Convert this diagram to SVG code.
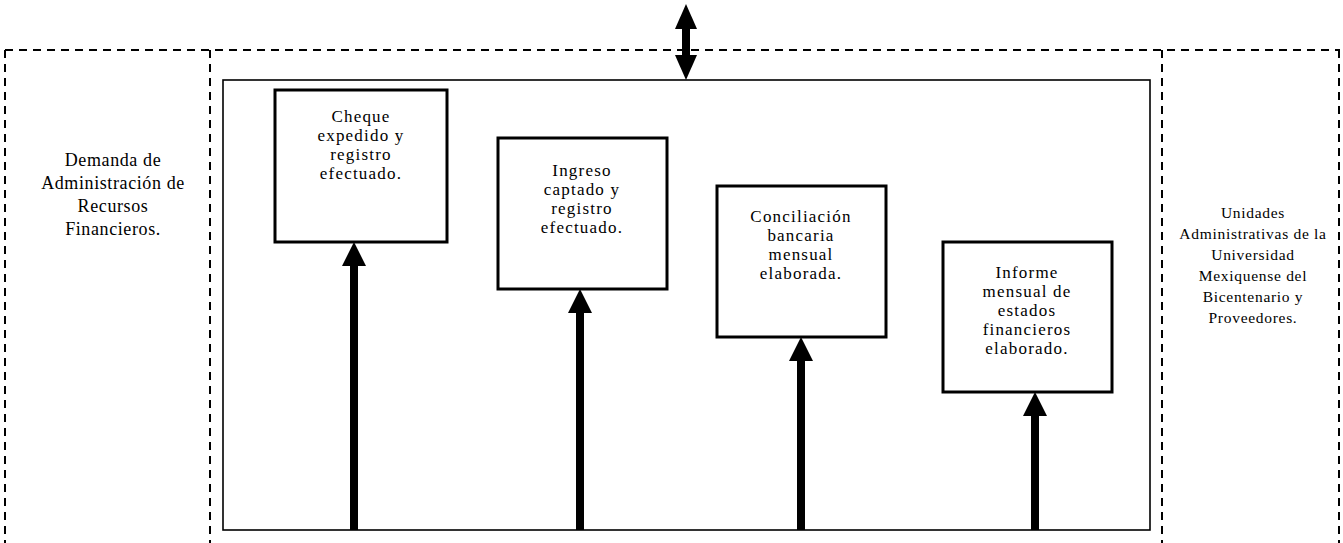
<svg xmlns="http://www.w3.org/2000/svg" width="1343" height="543" viewBox="0 0 1343 543">
<defs>
<style>
.dash{fill:none;stroke:#000;stroke-width:2;stroke-dasharray:8 6}
.frame{fill:none;stroke:#000;stroke-width:1.6}
.box{fill:#fff;stroke:#000;stroke-width:3}
.shaft{stroke:#000;stroke-width:8;fill:none}
.head{fill:#000}
text{font-family:"Liberation Serif","Times New Roman",serif;fill:#000;text-anchor:middle}
.t{font-size:17px;letter-spacing:1.2px}
.side{font-size:18px;letter-spacing:0.6px}
.side2{font-size:15.5px;letter-spacing:0.7px}
</style>
</defs>
<rect width="1343" height="543" fill="#fff"/>
<g id="frames">
<path class="dash" d="M5 50 H1340"/>
<path class="dash" d="M5 50 V543"/>
<path class="dash" d="M210 50 V543"/>
<path class="dash" d="M1162 50 V543"/>
<path class="dash" d="M1339 50 V543"/>
<rect class="frame" x="223" y="80" width="927" height="450"/>
</g>
<g id="connectors">
<path class="shaft" d="M686 24 V60"/>
<polygon class="head" points="686,4 675,29 697,29"/>
<polygon class="head" points="686,80 675,55 697,55"/>
<path class="shaft" d="M354 530 V262"/>
<polygon class="head" points="354,242 342,266 366,266"/>
<path class="shaft" d="M580 530 V309"/>
<polygon class="head" points="580,289 568,313 592,313"/>
<path class="shaft" d="M801 530 V357"/>
<polygon class="head" points="801,337 789,361 813,361"/>
<path class="shaft" d="M1035 530 V412"/>
<polygon class="head" points="1035,392 1023,416 1047,416"/>
</g>
<g id="demanda">
<text class="side" x="113" y="166">Demanda de</text>
<text class="side" x="113" y="189">Administración de</text>
<text class="side" x="113" y="212">Recursos</text>
<text class="side" x="113" y="235">Financieros.</text>
</g>
<g id="unidades">
<text class="side2" x="1253" y="218">Unidades</text>
<text class="side2" x="1253" y="239">Administrativas de la</text>
<text class="side2" x="1253" y="260">Universidad</text>
<text class="side2" x="1253" y="281">Mexiquense del</text>
<text class="side2" x="1253" y="302">Bicentenario y</text>
<text class="side2" x="1253" y="323">Proveedores.</text>
</g>
<g id="cheque">
<rect class="box" x="275" y="90" width="172" height="152"/>
<text class="t" x="361" y="122">Cheque</text>
<text class="t" x="361" y="141">expedido y</text>
<text class="t" x="361" y="160">registro</text>
<text class="t" x="361" y="179">efectuado.</text>
</g>
<g id="ingreso">
<rect class="box" x="498" y="138" width="169" height="151"/>
<text class="t" x="582" y="176">Ingreso</text>
<text class="t" x="582" y="195">captado y</text>
<text class="t" x="582" y="214">registro</text>
<text class="t" x="582" y="233">efectuado.</text>
</g>
<g id="conciliacion">
<rect class="box" x="717" y="186" width="169" height="151"/>
<text class="t" x="801" y="222">Conciliación</text>
<text class="t" x="801" y="241">bancaria</text>
<text class="t" x="801" y="260">mensual</text>
<text class="t" x="801" y="279">elaborada.</text>
</g>
<g id="informe">
<rect class="box" x="943" y="242" width="169" height="150"/>
<text class="t" x="1027" y="278">Informe</text>
<text class="t" x="1027" y="297">mensual de</text>
<text class="t" x="1027" y="316">estados</text>
<text class="t" x="1027" y="335">financieros</text>
<text class="t" x="1027" y="354">elaborado.</text>
</g>
</svg>
